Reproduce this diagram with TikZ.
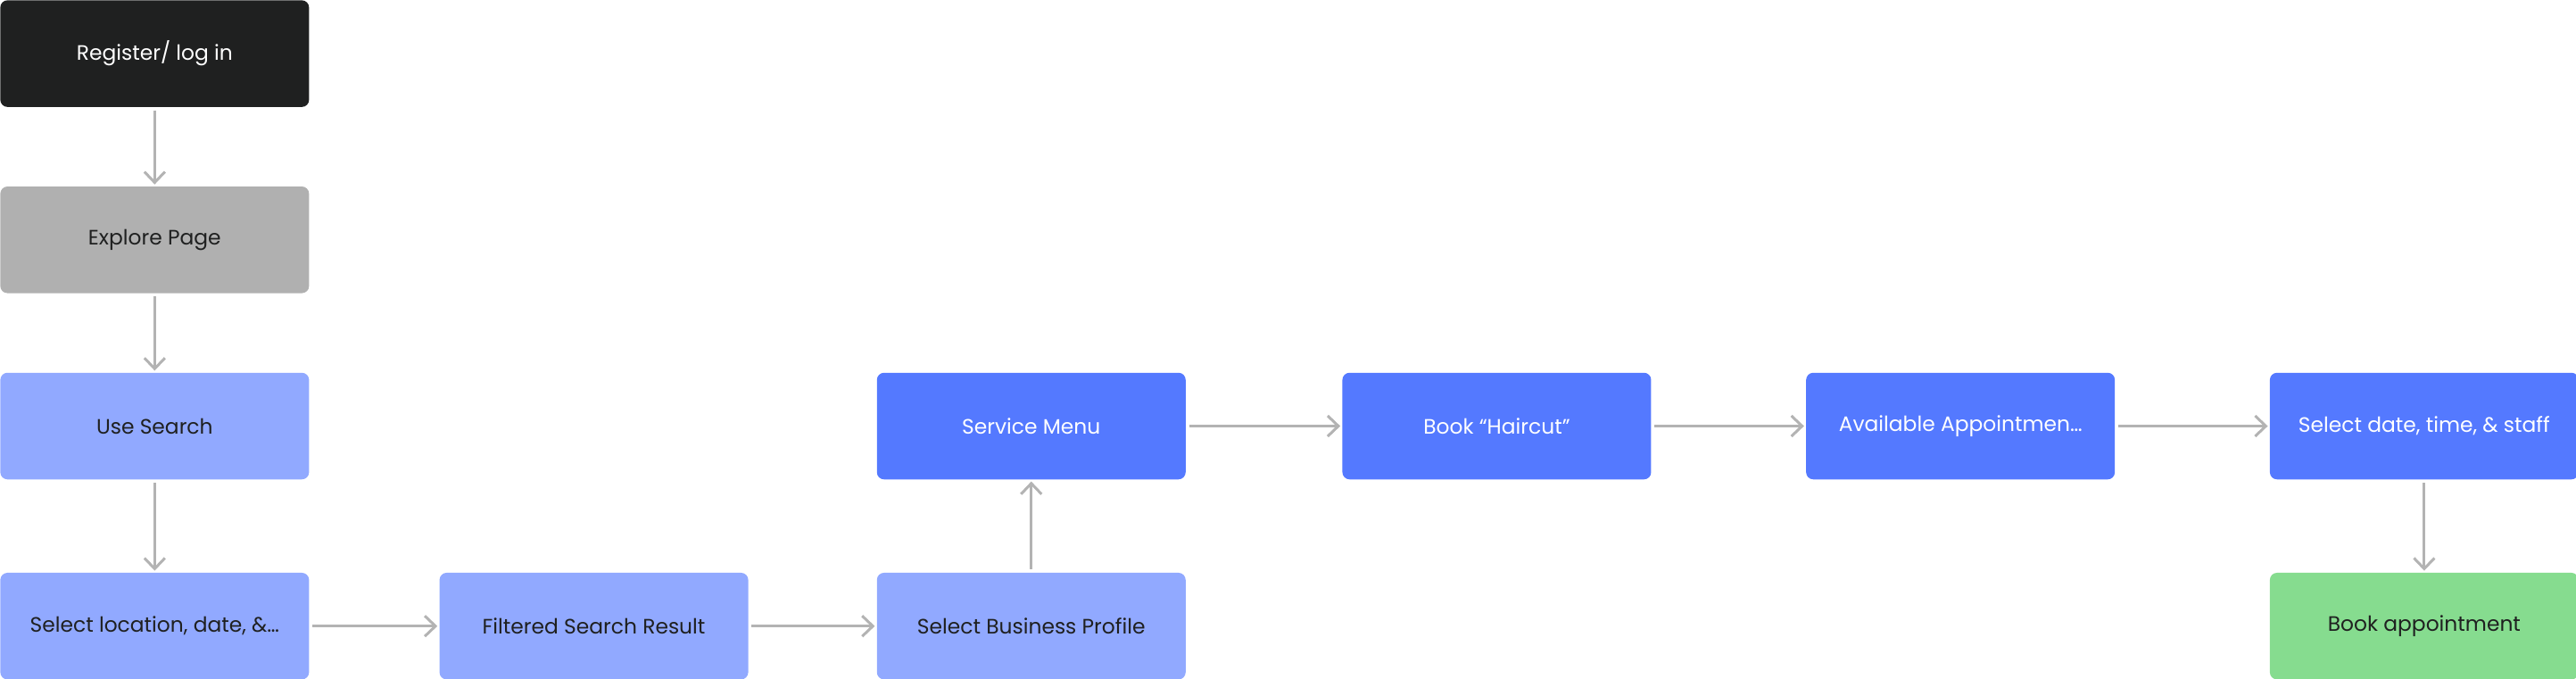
\documentclass[tikz,border=0pt]{standalone}
\usepackage{fontspec}
\setmainfont{Poppins}
\usetikzlibrary{positioning, arrows.meta}

\definecolor{darkbox}{HTML}{1F2020}
\definecolor{greybox}{HTML}{B0B0B0}
\definecolor{lightblue}{HTML}{91A9FF}
\definecolor{blue}{HTML}{5479FF}
\definecolor{greenbox}{HTML}{86DC8F}
\definecolor{arrowgrey}{HTML}{B3B3B3}

\begin{document}
\begin{tikzpicture}[stepbox/.style={rectangle, rounded corners=0.16cm, minimum width=6.92cm, minimum height=2.39cm, inner sep=0pt, font=\fontsize{13.3pt}{16pt}\selectfont},
flow/.style={draw=arrowgrey, line width=0.06cm, shorten <=0.07cm, shorten >=0.04cm, -{Straight Barb[length=0.24cm, width=0.46cm, line width=0.06cm]}}]
\useasboundingbox (0,0) rectangle (57.74,-15.2);
\node[stepbox, fill=darkbox, text=white, anchor=north west] (reg) at (0,0) {Register/ log in};
\node[stepbox, fill=greybox, text=darkbox, below=1.77cm of reg] (explore) {Explore Page};
\node[stepbox, fill=lightblue, text=darkbox, below=1.77cm of explore] (search) {Use Search};
\node[stepbox, fill=lightblue, text=darkbox, below=2.08cm of search] (selloc) {Select location, date, \&…};
\node[stepbox, fill=lightblue, text=darkbox, right=2.91cm of selloc] (filtered) {Filtered Search Result};
\node[stepbox, fill=lightblue, text=darkbox, right=2.87cm of filtered] (profile) {Select Business Profile};
% \node[stepbox, above=2.08cm of profile] (menu) {};
\node[stepbox, fill=blue, text=white, above=2.08cm of profile] (menu) {Service Menu};
\node[stepbox, fill=blue, text=white, right=3.5cm of menu] (haircut) {Book “Haircut”};
\node[stepbox, fill=blue, text=white, right=3.46cm of haircut] (avail) {Available Appointmen…};
\node[stepbox, fill=blue, text=white, right=3.46cm of avail] (seldate) {Select date, time, \& staff};
\node[stepbox, fill=greenbox, text=darkbox, below=2.08cm of seldate] (book) {Book appointment};

\draw[flow] (reg) -- (explore);
\draw[flow] (explore) -- (search);
\draw[flow] (search) -- (selloc);
\draw[flow] (selloc) -- (filtered);
\draw[flow] (filtered) -- (profile);
\draw[flow] (profile) -- (menu);
\draw[flow] (menu) -- (haircut);
\draw[flow] (haircut) -- (avail);
\draw[flow] (avail) -- (seldate);
\draw[flow] (seldate) -- (book);

\end{tikzpicture}
\end{document}
